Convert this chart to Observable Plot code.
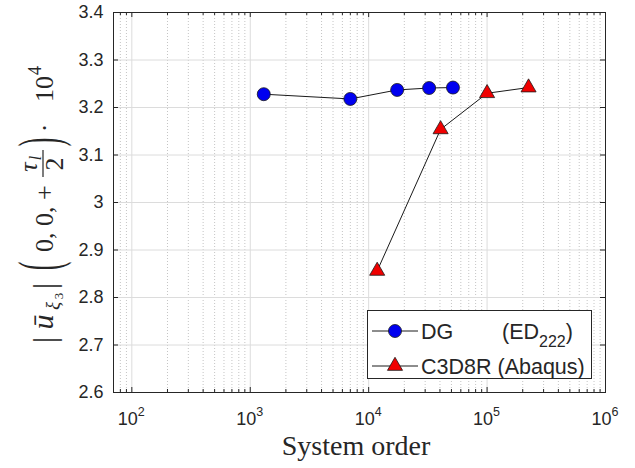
<!DOCTYPE html>
<html><head><meta charset="utf-8">
<script src="https://cdn.jsdelivr.net/npm/d3@7"></script>
<script src="https://cdn.jsdelivr.net/npm/@observablehq/plot@0.6"></script>
<style>
html,body{margin:0;padding:0;background:#fff;}
</style>
</head><body><div id="chart"></div>
<script>
// ---- data ----
const dgOrder = [1300, 7000, 17400, 32400, 51500];
const dgValue = [3.228, 3.218, 3.237, 3.241, 3.242];
const c3Order = [11800, 40500, 100000, 224000];
const c3Value = [2.856, 3.154, 3.230, 3.242];
const seriesNames = ["DG", "C3D8R (Abaqus)"];
const xMajorTicks = [1e2, 1e3, 1e4, 1e5, 1e6];
const xTickBase = ["10", "10", "10", "10", "10"];
const xTickExponents = ["2", "3", "4", "5", "6"];
const xMinorTicks = [80, 90,
  200, 300, 400, 500, 600, 700, 800, 900,
  2000, 3000, 4000, 5000, 6000, 7000, 8000, 9000,
  20000, 30000, 40000, 50000, 60000, 70000, 80000, 90000,
  200000, 300000, 400000, 500000, 600000, 700000, 800000, 900000];
const yTicks = [2.6, 2.7, 2.8, 2.9, 3, 3.1, 3.2, 3.3, 3.4];
const yTickLabels = ["2.6", "2.7", "2.8", "2.9", "3", "3.1", "3.2", "3.3", "3.4"];

const dg = dgOrder.map((x, i) => ({x, y: dgValue[i]}));
const c3 = c3Order.map((x, i) => ({x, y: c3Value[i]}));

const W = 635, H = 468, mL = 113, mR = 30, mT = 12, mB = 76;
const innerH = H - mT - mB, innerW = W - mL - mR;
const axisCol = "#262626";

const plot = Plot.plot({
  width: W, height: H,
  marginLeft: mL, marginRight: mR, marginTop: mT, marginBottom: mB,
  style: {fontFamily: "'Liberation Sans', Arial, sans-serif", fontSize: "18px", background: "#fff", color: axisCol},
  x: {type: "log", domain: [70, 1e6], axis: null},
  y: {domain: [2.6, 3.4], axis: null},
  marks: [
    Plot.ruleX(xMinorTicks, {stroke: "#bdbdbd", strokeDasharray: "1,2", strokeWidth: 0.9}),
    Plot.ruleX(xMajorTicks, {stroke: "#dcdcdc"}),
    Plot.ruleY(yTicks, {stroke: "#dcdcdc"}),
    // inward ticks
    Plot.tickX(xMajorTicks, {insetTop: innerH - 5, stroke: axisCol}),
    Plot.tickX(xMajorTicks, {insetBottom: innerH - 5, stroke: axisCol}),
    Plot.tickX(xMinorTicks, {insetTop: innerH - 3, stroke: axisCol}),
    Plot.tickX(xMinorTicks, {insetBottom: innerH - 3, stroke: axisCol}),
    Plot.tickY(yTicks, {insetLeft: innerW - 5, stroke: axisCol}),
    Plot.tickY(yTicks, {insetRight: innerW - 5, stroke: axisCol}),
    Plot.frame({stroke: axisCol}),
    // series
    Plot.line(dg, {x: "x", y: "y", stroke: "#1a1a1a", strokeWidth: 1}),
    Plot.line(c3, {x: "x", y: "y", stroke: "#1a1a1a", strokeWidth: 1}),
    Plot.dot(dg, {x: "x", y: "y", r: 6.5, symbol: "circle", fill: "#0000f0", stroke: "#1a1a1a", strokeWidth: 0.8}),
    Plot.dot(c3, {x: "x", y: "y", r: 5.6, symbol: "triangle", fill: "#f00000", stroke: "#1a1a1a", strokeWidth: 0.8}),
    // tick labels
    Plot.axisY({ticks: yTicks, tickSize: 0, tickPadding: 10, fontSize: 18, fill: axisCol,
      tickFormat: d => yTickLabels[yTicks.indexOf(d)], label: null}),
    Plot.text(xMajorTicks, {x: d => d, y: () => 2.6, text: (d, i) => xTickBase[i], dx: -4, dy: 27,
      fontSize: 18, fill: axisCol, textAnchor: "middle"}),
    Plot.text(xMajorTicks, {x: d => d, y: () => 2.6, text: (d, i) => xTickExponents[i], dx: 6, dy: 19,
      fontSize: 12.5, fill: axisCol, textAnchor: "start"})
  ]
});

const svg = d3.select(plot);
const serif = "'Liberation Serif', 'Times New Roman', serif";

// x axis label
svg.append("text").attr("x", 356).attr("y", 455).attr("text-anchor", "middle")
  .attr("font-family", serif).attr("font-size", 28).attr("fill", axisCol).text("System order");

// y axis label (rotated)
const g = svg.append("g").attr("transform", "translate(53,342) rotate(-90)")
  .attr("font-family", serif).attr("fill", axisCol).attr("text-anchor", "middle");
function put(txt, rx, ry, size, extra = {}) {
  const t = g.append("text").attr("x", rx).attr("y", ry).attr("font-size", size).text(txt);
  for (const k in extra) t.attr(k, extra[k]);
  return t;
}
put("|", 2, 2, 32);
put("ū", 20, 0, 30, {"font-style": "italic"});
put("ξ", 36, 6, 19, {"font-style": "italic"});
put("3", 46, 10, 13);
put("|", 56, 2, 32);
put("(", 0, 0, 26, {transform: "translate(76,-10) scale(1,2.3) translate(0,7)"});
put("0, 0, +", 90, 0, 26, {"text-anchor": "start"});
put("τ", 175, -16, 26, {"font-style": "italic"});
put("l", 184, -12, 16, {"font-style": "italic"});
g.append("line").attr("x1", 165).attr("x2", 192).attr("y1", -10).attr("y2", -10).attr("stroke", axisCol).attr("stroke-width", 1.2);
put("2", 178, 10, 26);
put(")", 0, 0, 26, {transform: "translate(200,-10) scale(1,2.3) translate(0,7)"});
put("·", 214, 0, 26);
put("10", 240, 0, 26, {"text-anchor": "start"});
put("4", 267, -12, 18, {"text-anchor": "start"});

// legend
const leg = svg.append("g").attr("font-family", "'Liberation Sans', Arial, sans-serif")
  .attr("fill", axisCol).attr("text-anchor", "start");
leg.append("rect").attr("x", 367.5).attr("y", 310.5).attr("width", 224).attr("height", 68)
  .attr("fill", "#fff").attr("stroke", axisCol);
const rows = [
  {y: 331, fill: "#0000f0", sym: d3.symbolCircle, size: Math.PI * 6.5 * 6.5},
  {y: 366, fill: "#f00000", sym: d3.symbolTriangle, size: Math.PI * 5.6 * 5.6}
];
rows.forEach((r, i) => {
  leg.append("line").attr("x1", 372).attr("x2", 418).attr("y1", r.y).attr("y2", r.y).attr("stroke", "#1a1a1a");
  leg.append("path").attr("d", d3.symbol(r.sym, r.size)()).attr("transform", `translate(395,${r.y})`)
    .attr("fill", r.fill).attr("stroke", "#1a1a1a").attr("stroke-width", 0.8);
  leg.append("text").attr("x", 421).attr("y", r.y + 7.5).attr("font-size", 21.5).text(seriesNames[i]);
});
const ed = leg.append("text").attr("x", 502).attr("y", 338.5).attr("font-size", 21.5);
ed.append("tspan").text("(ED");
ed.append("tspan").attr("dy", 8).attr("font-size", 16).text("222");
ed.append("tspan").attr("dy", -8).text(")");

document.getElementById("chart").appendChild(plot);
</script>
</body></html>
